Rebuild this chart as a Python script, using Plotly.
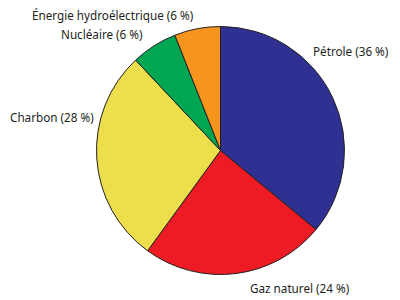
import plotly.graph_objects as go

# Energy sources and their shares (%)
sources = ["Pétrole", "Gaz naturel", "Charbon", "Nucléaire", "Énergie hydroélectrique"]
shares = [36, 24, 28, 6, 6]
colors = ["#2E3192", "#ED1C24", "#EDDF4B", "#00A651", "#F7941D"]

# Label placement (paper coordinates) for each source
label_x = [350.5, 299.5, 51.5, 102.5, 112.5]
label_y = [51, 288, 117, 34, 15.5]

W, H = 400, 300
cx, cy, r = 220.5, 150.5, 124

fig = go.Figure(
    go.Pie(
        labels=sources,
        values=shares,
        sort=False,
        direction="clockwise",
        rotation=0,
        textinfo="none",
        hoverinfo="label+percent",
        marker=dict(colors=colors, line=dict(color="#231F20", width=1)),
        domain=dict(
            x=[(cx - r) / W, (cx + r) / W],
            y=[(H - cy - r) / H, (H - cy + r) / H],
        ),
        showlegend=False,
    )
)

annotations = []
for name, val, lx, ly in zip(sources, shares, label_x, label_y):
    annotations.append(
        dict(
            text=f"{name} ({val} %)",
            x=lx / W,
            y=(H - ly) / H,
            xref="paper",
            yref="paper",
            xanchor="center",
            yanchor="middle",
            showarrow=False,
            font=dict(family="Noto Sans", size=11.7, color="#231F20"),
        )
    )

fig.update_layout(
    width=W,
    height=H,
    margin=dict(l=0, r=0, t=0, b=0),
    paper_bgcolor="white",
    plot_bgcolor="white",
    annotations=annotations,
)

fig.write_html("out.html")
